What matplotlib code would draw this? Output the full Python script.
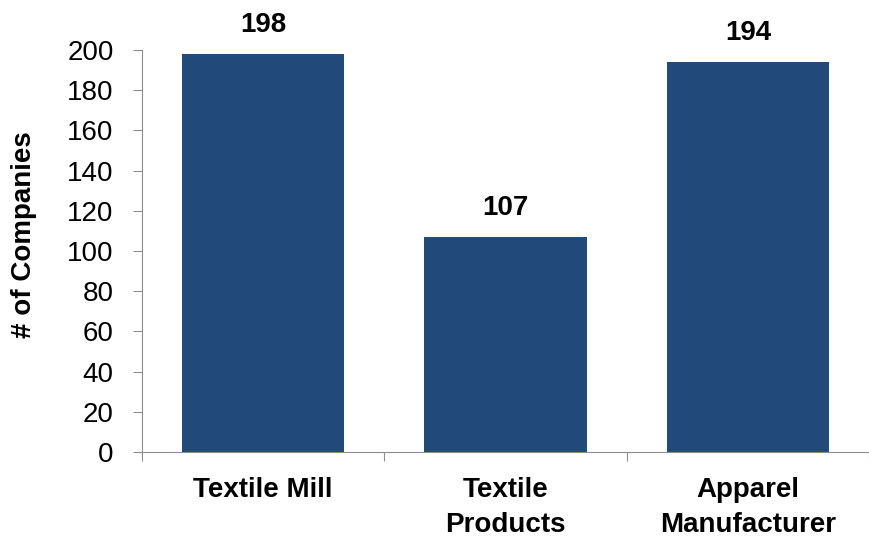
import numpy as np
import matplotlib.pyplot as plt

categories = ["Textile Mill", "Textile\nProducts", "Apparel\nManufacturer"]
companies = [198, 107, 194]

plt.rcParams['font.family'] = ['Liberation Sans', 'DejaVu Sans']

fig = plt.figure(figsize=(8.69, 5.37), dpi=100)
ax = fig.add_axes([0.1634, 0.158, 0.8366, 0.749])

x = np.arange(len(categories))
ax.bar(x, companies, width=0.67, color='#214a7b')

for xi, v in zip(x, companies):
    ax.text(xi, v + 8, str(v), ha='center', va='bottom', fontsize=20, fontweight='bold')

ax.set_xlim(-0.5, len(categories) - 0.5)
ax.set_ylim(0, 200)
ax.set_yticks(np.arange(0, 201, 20))
ax.tick_params(axis='y', labelsize=20, length=6.5, color='#8c8c8c', pad=14)

ax.set_xticks(np.arange(-0.5, len(categories)), minor=False)
ax.set_xticklabels([])
ax.set_xticks(x, minor=True)
ax.set_xticklabels(categories, minor=True, fontsize=20, fontweight='bold', linespacing=1.45)
ax.tick_params(axis='x', which='major', length=6.5, color='#8c8c8c')
ax.tick_params(axis='x', which='minor', length=0, pad=18)

for s in ['top', 'right']:
    ax.spines[s].set_visible(False)
for s in ['left', 'bottom']:
    ax.spines[s].set_color('#8c8c8c')

ax.set_ylabel("# of Companies", fontsize=20, fontweight='bold')
ax.yaxis.set_label_coords(-0.145, 0.54)

fig.savefig("out.png", dpi=100)
